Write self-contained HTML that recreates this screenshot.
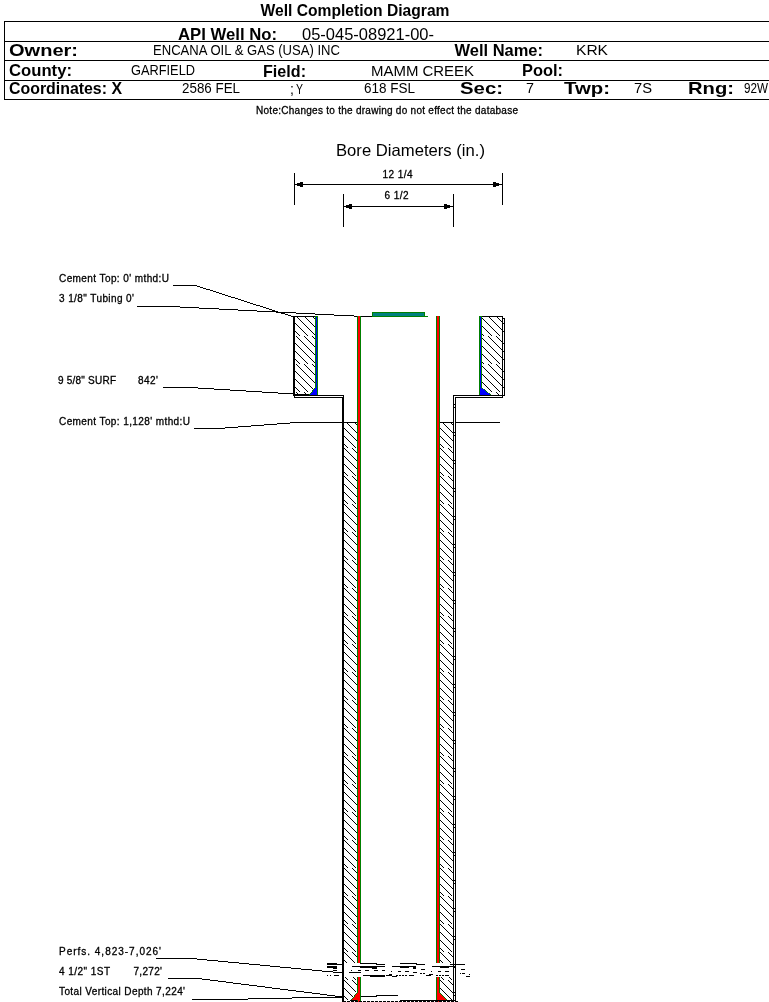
<!DOCTYPE html>
<html><head><meta charset="utf-8"><style>
html,body{margin:0;padding:0;background:#fff;}
svg{display:block;will-change:transform;}
text{font-family:"Liberation Sans",sans-serif;fill:#000;}
.sm{stroke:#000;stroke-width:0.3px;}
</style></head><body>
<svg width="769" height="1002" viewBox="0 0 769 1002" shape-rendering="crispEdges">
<defs>
<pattern id="h" patternUnits="userSpaceOnUse" width="8" height="8">
<path d="M0,0 L8,8 M-1,7 L1,9 M7,-1 L9,1" stroke="#000" stroke-width="1" shape-rendering="crispEdges"/>
</pattern>
<pattern id="g" patternUnits="userSpaceOnUse" width="8" height="8" patternTransform="translate(4,0)">
<path d="M0,0 L8,8 M-1,7 L1,9 M7,-1 L9,1" stroke="#000" stroke-width="1" shape-rendering="crispEdges"/>
</pattern></defs>
<text x="260.5" y="16" font-size="16.5" font-weight="bold" textLength="189" lengthAdjust="spacingAndGlyphs">Well Completion Diagram</text>
<rect x="4" y="21" width="765" height="1" fill="#000"/>
<rect x="4" y="41" width="765" height="1" fill="#000"/>
<rect x="4" y="60" width="765" height="1" fill="#000"/>
<rect x="4" y="80" width="765" height="1" fill="#000"/>
<rect x="4" y="99" width="765" height="1" fill="#000"/>
<rect x="4" y="21" width="1" height="79" fill="#000"/>
<text x="178" y="39.5" font-size="16.5" font-weight="bold" textLength="99" lengthAdjust="spacingAndGlyphs">API Well No:</text>
<text x="302" y="40" font-size="16.5" textLength="132" lengthAdjust="spacingAndGlyphs">05-045-08921-00-</text>
<text x="9" y="56" font-size="17" font-weight="bold" textLength="69" lengthAdjust="spacingAndGlyphs">Owner:</text>
<text x="153" y="55" font-size="14" textLength="187" lengthAdjust="spacingAndGlyphs">ENCANA OIL &amp; GAS (USA) INC</text>
<text x="454.5" y="56" font-size="16.5" font-weight="bold" textLength="88.5" lengthAdjust="spacingAndGlyphs">Well Name:</text>
<text x="576" y="55" font-size="14" textLength="32" lengthAdjust="spacingAndGlyphs">KRK</text>
<text x="9" y="75.5" font-size="17" font-weight="bold" textLength="63" lengthAdjust="spacingAndGlyphs">County:</text>
<text x="131" y="75" font-size="14" textLength="64" lengthAdjust="spacingAndGlyphs">GARFIELD</text>
<text x="263" y="77" font-size="16.5" font-weight="bold" textLength="43" lengthAdjust="spacingAndGlyphs">Field:</text>
<text x="371" y="76" font-size="14" textLength="103" lengthAdjust="spacingAndGlyphs">MAMM CREEK</text>
<text x="522" y="75.5" font-size="16.5" font-weight="bold" textLength="41" lengthAdjust="spacingAndGlyphs">Pool:</text>
<text x="9" y="94" font-size="17" font-weight="bold" textLength="113" lengthAdjust="spacingAndGlyphs">Coordinates: X</text>
<text x="182" y="93" font-size="14" textLength="58" lengthAdjust="spacingAndGlyphs">2586 FEL</text>
<text x="290" y="93.5" font-size="14">;</text>
<text x="296" y="94" font-size="14" textLength="7" lengthAdjust="spacingAndGlyphs">Y</text>
<text x="364" y="93" font-size="14" textLength="51" lengthAdjust="spacingAndGlyphs">618 FSL</text>
<text x="460" y="94" font-size="17" font-weight="bold" textLength="43" lengthAdjust="spacingAndGlyphs">Sec:</text>
<text x="526" y="93" font-size="14" textLength="8" lengthAdjust="spacingAndGlyphs">7</text>
<text x="564" y="94" font-size="17" font-weight="bold" textLength="46" lengthAdjust="spacingAndGlyphs">Twp:</text>
<text x="634" y="93" font-size="14" textLength="18" lengthAdjust="spacingAndGlyphs">7S</text>
<text x="688" y="94" font-size="17" font-weight="bold" textLength="46" lengthAdjust="spacingAndGlyphs">Rng:</text>
<text x="744" y="93" font-size="14" textLength="24" lengthAdjust="spacingAndGlyphs">92W</text>
<text x="256" y="114" font-size="10" textLength="262" lengthAdjust="spacing" class="sm">Note:Changes to the drawing do not effect the database</text>
<text x="336" y="156" font-size="16.5" textLength="149" lengthAdjust="spacingAndGlyphs">Bore Diameters (in.)</text>
<text x="382.5" y="178" font-size="10" textLength="30" lengthAdjust="spacing" class="sm">12 1/4</text>
<text x="384.5" y="199" font-size="10" textLength="24" lengthAdjust="spacing" class="sm">6 1/2</text>
<rect x="294" y="173" width="1" height="32" fill="#000"/>
<rect x="502" y="173" width="1" height="32" fill="#000"/>
<rect x="295" y="184" width="207" height="1" fill="#000"/>
<rect x="297" y="183" width="3" height="3" fill="#000"/>
<rect x="300" y="182" width="3" height="5" fill="#000"/>
<rect x="496" y="183" width="3" height="3" fill="#000"/>
<rect x="493" y="182" width="3" height="5" fill="#000"/>
<rect x="343" y="194" width="1" height="33" fill="#000"/>
<rect x="453" y="194" width="1" height="33" fill="#000"/>
<rect x="344" y="206" width="109" height="1" fill="#000"/>
<rect x="346" y="205" width="3" height="3" fill="#000"/>
<rect x="349" y="204" width="3" height="5" fill="#000"/>
<rect x="447" y="205" width="3" height="3" fill="#000"/>
<rect x="444" y="204" width="3" height="5" fill="#000"/>
<text x="59" y="282" font-size="10" textLength="110" lengthAdjust="spacing" class="sm">Cement Top: 0&#39; mthd:U</text>
<text x="59" y="302" font-size="10" textLength="75" lengthAdjust="spacing" class="sm">3 1/8&quot; Tubing 0&#39;</text>
<text x="58" y="384" font-size="10" textLength="58" lengthAdjust="spacing" class="sm">9 5/8&quot; SURF</text>
<text x="138" y="384" font-size="10" textLength="20" lengthAdjust="spacing" class="sm">842&#39;</text>
<text x="59" y="425" font-size="10" textLength="131" lengthAdjust="spacing" class="sm">Cement Top: 1,128&#39; mthd:U</text>
<text x="59" y="955" font-size="10" textLength="102" lengthAdjust="spacing" class="sm">Perfs. 4,823-7,026&#39;</text>
<text x="59" y="975" font-size="10" textLength="51" lengthAdjust="spacing" class="sm">4 1/2&quot; 1ST</text>
<text x="133.5" y="975" font-size="10" textLength="28.5" lengthAdjust="spacing" class="sm">7,272&#39;</text>
<text x="59" y="995" font-size="10" textLength="126" lengthAdjust="spacing" class="sm">Total Vertical Depth 7,224&#39;</text>
<rect x="173" y="285" width="24" height="1" fill="#000"/>
<rect x="197" y="286" width="3" height="1" fill="#000"/>
<rect x="200" y="287" width="3" height="1" fill="#000"/>
<rect x="203" y="288" width="3" height="1" fill="#000"/>
<rect x="206" y="289" width="4" height="1" fill="#000"/>
<rect x="210" y="290" width="3" height="1" fill="#000"/>
<rect x="213" y="291" width="3" height="1" fill="#000"/>
<rect x="216" y="292" width="3" height="1" fill="#000"/>
<rect x="219" y="293" width="3" height="1" fill="#000"/>
<rect x="222" y="294" width="3" height="1" fill="#000"/>
<rect x="225" y="295" width="3" height="1" fill="#000"/>
<rect x="228" y="296" width="3" height="1" fill="#000"/>
<rect x="231" y="297" width="4" height="1" fill="#000"/>
<rect x="235" y="298" width="3" height="1" fill="#000"/>
<rect x="238" y="299" width="3" height="1" fill="#000"/>
<rect x="241" y="300" width="3" height="1" fill="#000"/>
<rect x="244" y="301" width="3" height="1" fill="#000"/>
<rect x="247" y="302" width="3" height="1" fill="#000"/>
<rect x="250" y="303" width="3" height="1" fill="#000"/>
<rect x="253" y="304" width="3" height="1" fill="#000"/>
<rect x="256" y="305" width="4" height="1" fill="#000"/>
<rect x="260" y="306" width="3" height="1" fill="#000"/>
<rect x="263" y="307" width="3" height="1" fill="#000"/>
<rect x="266" y="308" width="3" height="1" fill="#000"/>
<rect x="269" y="309" width="3" height="1" fill="#000"/>
<rect x="272" y="310" width="3" height="1" fill="#000"/>
<rect x="275" y="311" width="3" height="1" fill="#000"/>
<rect x="278" y="312" width="3" height="1" fill="#000"/>
<rect x="281" y="313" width="4" height="1" fill="#000"/>
<rect x="285" y="314" width="3" height="1" fill="#000"/>
<rect x="288" y="315" width="3" height="1" fill="#000"/>
<rect x="291" y="316" width="3" height="1" fill="#000"/>
<rect x="137" y="306" width="43" height="1" fill="#000"/>
<rect x="180" y="307" width="19" height="1" fill="#000"/>
<rect x="199" y="308" width="20" height="1" fill="#000"/>
<rect x="219" y="309" width="19" height="1" fill="#000"/>
<rect x="238" y="310" width="19" height="1" fill="#000"/>
<rect x="257" y="311" width="19" height="1" fill="#000"/>
<rect x="276" y="312" width="20" height="1" fill="#000"/>
<rect x="296" y="313" width="19" height="1" fill="#000"/>
<rect x="315" y="314" width="19" height="1" fill="#000"/>
<rect x="334" y="315" width="20" height="1" fill="#000"/>
<rect x="354" y="316" width="19" height="1" fill="#000"/>
<rect x="163" y="387" width="35" height="1" fill="#000"/>
<rect x="198" y="388" width="16" height="1" fill="#000"/>
<rect x="214" y="389" width="16" height="1" fill="#000"/>
<rect x="230" y="390" width="16" height="1" fill="#000"/>
<rect x="246" y="391" width="16" height="1" fill="#000"/>
<rect x="262" y="392" width="16" height="1" fill="#000"/>
<rect x="278" y="393" width="16" height="1" fill="#000"/>
<rect x="194" y="428" width="31" height="1" fill="#000"/>
<rect x="225" y="427" width="13" height="1" fill="#000"/>
<rect x="238" y="426" width="13" height="1" fill="#000"/>
<rect x="251" y="425" width="13" height="1" fill="#000"/>
<rect x="264" y="424" width="13" height="1" fill="#000"/>
<rect x="277" y="423" width="13" height="1" fill="#000"/>
<rect x="290" y="422" width="68" height="1" fill="#000"/>
<rect x="440" y="422" width="14" height="1" fill="#000"/>
<rect x="455" y="422" width="45" height="1" fill="#000"/>
<rect x="156" y="958" width="41" height="1" fill="#000"/>
<rect x="197" y="959" width="10" height="1" fill="#000"/>
<rect x="207" y="960" width="11" height="1" fill="#000"/>
<rect x="218" y="961" width="10" height="1" fill="#000"/>
<rect x="228" y="962" width="11" height="1" fill="#000"/>
<rect x="239" y="963" width="10" height="1" fill="#000"/>
<rect x="249" y="964" width="11" height="1" fill="#000"/>
<rect x="260" y="965" width="10" height="1" fill="#000"/>
<rect x="270" y="966" width="10" height="1" fill="#000"/>
<rect x="280" y="967" width="11" height="1" fill="#000"/>
<rect x="291" y="968" width="10" height="1" fill="#000"/>
<rect x="301" y="969" width="11" height="1" fill="#000"/>
<rect x="312" y="970" width="10" height="1" fill="#000"/>
<rect x="322" y="971" width="11" height="1" fill="#000"/>
<rect x="333" y="972" width="10" height="1" fill="#000"/>
<rect x="168" y="978" width="34" height="1" fill="#000"/>
<rect x="202" y="979" width="8" height="1" fill="#000"/>
<rect x="210" y="980" width="8" height="1" fill="#000"/>
<rect x="218" y="981" width="8" height="1" fill="#000"/>
<rect x="226" y="982" width="7" height="1" fill="#000"/>
<rect x="233" y="983" width="8" height="1" fill="#000"/>
<rect x="241" y="984" width="8" height="1" fill="#000"/>
<rect x="249" y="985" width="8" height="1" fill="#000"/>
<rect x="257" y="986" width="8" height="1" fill="#000"/>
<rect x="265" y="987" width="7" height="1" fill="#000"/>
<rect x="272" y="988" width="8" height="1" fill="#000"/>
<rect x="280" y="989" width="8" height="1" fill="#000"/>
<rect x="288" y="990" width="8" height="1" fill="#000"/>
<rect x="296" y="991" width="8" height="1" fill="#000"/>
<rect x="304" y="992" width="8" height="1" fill="#000"/>
<rect x="312" y="993" width="8" height="1" fill="#000"/>
<rect x="320" y="994" width="7" height="1" fill="#000"/>
<rect x="327" y="995" width="8" height="1" fill="#000"/>
<rect x="335" y="996" width="8" height="1" fill="#000"/>
<rect x="192" y="999" width="56" height="1" fill="#000"/>
<rect x="248" y="998" width="44" height="1" fill="#000"/>
<rect x="292" y="997" width="51" height="1" fill="#000"/>
<rect x="361" y="996" width="16" height="1" fill="#000"/>
<rect x="376" y="995" width="22" height="1" fill="#000"/>
<rect x="295" y="317" width="20" height="19" fill="url(#g)"/>
<rect x="295" y="336" width="20" height="28" fill="url(#h)"/>
<rect x="295" y="364" width="20" height="28" fill="url(#g)"/>
<rect x="295" y="392" width="20" height="3" fill="url(#h)"/>
<rect x="482" y="317" width="22" height="19" fill="url(#g)"/>
<rect x="482" y="336" width="22" height="28" fill="url(#h)"/>
<rect x="482" y="364" width="22" height="28" fill="url(#g)"/>
<rect x="482" y="392" width="22" height="3" fill="url(#h)"/>
<rect x="344" y="423" width="13" height="25" fill="url(#g)"/>
<rect x="344" y="448" width="13" height="28" fill="url(#h)"/>
<rect x="344" y="476" width="13" height="28" fill="url(#g)"/>
<rect x="344" y="504" width="13" height="28" fill="url(#h)"/>
<rect x="344" y="532" width="13" height="28" fill="url(#g)"/>
<rect x="344" y="560" width="13" height="28" fill="url(#h)"/>
<rect x="344" y="588" width="13" height="28" fill="url(#g)"/>
<rect x="344" y="616" width="13" height="28" fill="url(#h)"/>
<rect x="344" y="644" width="13" height="28" fill="url(#g)"/>
<rect x="344" y="672" width="13" height="28" fill="url(#h)"/>
<rect x="344" y="700" width="13" height="28" fill="url(#g)"/>
<rect x="344" y="728" width="13" height="28" fill="url(#h)"/>
<rect x="344" y="756" width="13" height="28" fill="url(#g)"/>
<rect x="344" y="784" width="13" height="28" fill="url(#h)"/>
<rect x="344" y="812" width="13" height="28" fill="url(#g)"/>
<rect x="344" y="840" width="13" height="28" fill="url(#h)"/>
<rect x="344" y="868" width="13" height="28" fill="url(#g)"/>
<rect x="344" y="896" width="13" height="28" fill="url(#h)"/>
<rect x="344" y="924" width="13" height="28" fill="url(#g)"/>
<rect x="344" y="952" width="13" height="28" fill="url(#h)"/>
<rect x="344" y="980" width="13" height="20" fill="url(#g)"/>
<rect x="440" y="423" width="13" height="25" fill="url(#g)"/>
<rect x="440" y="448" width="13" height="28" fill="url(#h)"/>
<rect x="440" y="476" width="13" height="28" fill="url(#g)"/>
<rect x="440" y="504" width="13" height="28" fill="url(#h)"/>
<rect x="440" y="532" width="13" height="28" fill="url(#g)"/>
<rect x="440" y="560" width="13" height="28" fill="url(#h)"/>
<rect x="440" y="588" width="13" height="28" fill="url(#g)"/>
<rect x="440" y="616" width="13" height="28" fill="url(#h)"/>
<rect x="440" y="644" width="13" height="28" fill="url(#g)"/>
<rect x="440" y="672" width="13" height="28" fill="url(#h)"/>
<rect x="440" y="700" width="13" height="28" fill="url(#g)"/>
<rect x="440" y="728" width="13" height="28" fill="url(#h)"/>
<rect x="440" y="756" width="13" height="28" fill="url(#g)"/>
<rect x="440" y="784" width="13" height="28" fill="url(#h)"/>
<rect x="440" y="812" width="13" height="28" fill="url(#g)"/>
<rect x="440" y="840" width="13" height="28" fill="url(#h)"/>
<rect x="440" y="868" width="13" height="28" fill="url(#g)"/>
<rect x="440" y="896" width="13" height="28" fill="url(#h)"/>
<rect x="440" y="924" width="13" height="28" fill="url(#g)"/>
<rect x="440" y="952" width="13" height="28" fill="url(#h)"/>
<rect x="440" y="980" width="13" height="20" fill="url(#g)"/>
<rect x="454" y="404" width="1" height="1" fill="#000"/>
<rect x="454" y="407" width="1" height="1" fill="#000"/>
<rect x="454" y="432" width="1" height="1" fill="#000"/>
<rect x="454" y="435" width="1" height="1" fill="#000"/>
<rect x="454" y="460" width="1" height="1" fill="#000"/>
<rect x="454" y="463" width="1" height="1" fill="#000"/>
<rect x="454" y="488" width="1" height="1" fill="#000"/>
<rect x="454" y="491" width="1" height="1" fill="#000"/>
<rect x="454" y="516" width="1" height="1" fill="#000"/>
<rect x="454" y="519" width="1" height="1" fill="#000"/>
<rect x="454" y="544" width="1" height="1" fill="#000"/>
<rect x="454" y="547" width="1" height="1" fill="#000"/>
<rect x="454" y="572" width="1" height="1" fill="#000"/>
<rect x="454" y="575" width="1" height="1" fill="#000"/>
<rect x="454" y="600" width="1" height="1" fill="#000"/>
<rect x="454" y="603" width="1" height="1" fill="#000"/>
<rect x="454" y="628" width="1" height="1" fill="#000"/>
<rect x="454" y="631" width="1" height="1" fill="#000"/>
<rect x="454" y="656" width="1" height="1" fill="#000"/>
<rect x="454" y="659" width="1" height="1" fill="#000"/>
<rect x="454" y="684" width="1" height="1" fill="#000"/>
<rect x="454" y="687" width="1" height="1" fill="#000"/>
<rect x="454" y="712" width="1" height="1" fill="#000"/>
<rect x="454" y="715" width="1" height="1" fill="#000"/>
<rect x="454" y="740" width="1" height="1" fill="#000"/>
<rect x="454" y="743" width="1" height="1" fill="#000"/>
<rect x="454" y="768" width="1" height="1" fill="#000"/>
<rect x="454" y="771" width="1" height="1" fill="#000"/>
<rect x="454" y="796" width="1" height="1" fill="#000"/>
<rect x="454" y="799" width="1" height="1" fill="#000"/>
<rect x="454" y="824" width="1" height="1" fill="#000"/>
<rect x="454" y="827" width="1" height="1" fill="#000"/>
<rect x="454" y="852" width="1" height="1" fill="#000"/>
<rect x="454" y="855" width="1" height="1" fill="#000"/>
<rect x="454" y="880" width="1" height="1" fill="#000"/>
<rect x="454" y="883" width="1" height="1" fill="#000"/>
<rect x="454" y="908" width="1" height="1" fill="#000"/>
<rect x="454" y="911" width="1" height="1" fill="#000"/>
<rect x="454" y="936" width="1" height="1" fill="#000"/>
<rect x="454" y="939" width="1" height="1" fill="#000"/>
<rect x="454" y="964" width="1" height="1" fill="#000"/>
<rect x="454" y="967" width="1" height="1" fill="#000"/>
<rect x="454" y="992" width="1" height="1" fill="#000"/>
<rect x="454" y="995" width="1" height="1" fill="#000"/>
<rect x="293" y="316" width="1" height="80" fill="#000"/>
<rect x="294" y="316" width="1" height="82" fill="#000"/>
<rect x="293" y="316" width="22" height="1" fill="#000"/>
<rect x="293" y="395" width="51" height="1" fill="#000"/>
<rect x="294" y="397" width="49" height="1" fill="#000"/>
<rect x="343" y="395" width="1" height="607" fill="#000"/>
<rect x="342" y="397" width="1" height="605" fill="#000"/>
<rect x="315" y="316" width="1" height="79" fill="#008000"/>
<rect x="316" y="316" width="1" height="79" fill="#0000ff"/>
<rect x="317" y="316" width="1" height="79" fill="#008000"/>
<rect x="316" y="387" width="1" height="1" fill="#0000ff"/>
<rect x="315" y="387" width="1" height="1" fill="#008000"/>
<rect x="315" y="388" width="2" height="1" fill="#0000ff"/>
<rect x="314" y="388" width="1" height="1" fill="#008000"/>
<rect x="314" y="389" width="3" height="1" fill="#0000ff"/>
<rect x="313" y="389" width="1" height="1" fill="#008000"/>
<rect x="313" y="390" width="4" height="1" fill="#0000ff"/>
<rect x="312" y="390" width="1" height="1" fill="#008000"/>
<rect x="313" y="391" width="4" height="1" fill="#0000ff"/>
<rect x="312" y="391" width="1" height="1" fill="#008000"/>
<rect x="312" y="392" width="5" height="1" fill="#0000ff"/>
<rect x="311" y="392" width="1" height="1" fill="#008000"/>
<rect x="311" y="393" width="6" height="1" fill="#0000ff"/>
<rect x="310" y="393" width="1" height="1" fill="#008000"/>
<rect x="310" y="394" width="7" height="1" fill="#0000ff"/>
<rect x="309" y="394" width="1" height="1" fill="#008000"/>
<rect x="295" y="394" width="14" height="1" fill="#000"/>
<rect x="479" y="316" width="1" height="79" fill="#008000"/>
<rect x="480" y="316" width="1" height="79" fill="#0000ff"/>
<rect x="481" y="316" width="1" height="79" fill="#008000"/>
<rect x="479" y="316" width="3" height="1" fill="#008000"/>
<rect x="315" y="316" width="3" height="1" fill="#008000"/>
<rect x="503" y="318" width="1" height="1" fill="#000"/>
<rect x="482" y="316" width="21" height="1" fill="#000"/>
<rect x="502" y="316" width="1" height="82" fill="#000"/>
<rect x="504" y="318" width="1" height="78" fill="#000"/>
<rect x="453" y="395" width="52" height="1" fill="#000"/>
<rect x="455" y="397" width="48" height="1" fill="#000"/>
<rect x="453" y="395" width="1" height="607" fill="#000"/>
<rect x="455" y="397" width="1" height="605" fill="#000"/>
<rect x="480" y="387" width="1" height="1" fill="#0000ff"/>
<rect x="481" y="387" width="1" height="1" fill="#008000"/>
<rect x="482" y="387" width="1" height="1" fill="#fff"/>
<rect x="480" y="388" width="2" height="1" fill="#0000ff"/>
<rect x="482" y="388" width="1" height="1" fill="#008000"/>
<rect x="483" y="388" width="1" height="1" fill="#fff"/>
<rect x="480" y="389" width="4" height="1" fill="#0000ff"/>
<rect x="484" y="389" width="1" height="1" fill="#008000"/>
<rect x="485" y="389" width="1" height="1" fill="#fff"/>
<rect x="480" y="390" width="5" height="1" fill="#0000ff"/>
<rect x="485" y="390" width="1" height="1" fill="#008000"/>
<rect x="486" y="390" width="1" height="1" fill="#fff"/>
<rect x="480" y="391" width="6" height="1" fill="#0000ff"/>
<rect x="486" y="391" width="1" height="1" fill="#008000"/>
<rect x="487" y="391" width="1" height="1" fill="#fff"/>
<rect x="480" y="392" width="7" height="1" fill="#0000ff"/>
<rect x="487" y="392" width="1" height="1" fill="#008000"/>
<rect x="488" y="392" width="1" height="1" fill="#fff"/>
<rect x="480" y="393" width="9" height="1" fill="#0000ff"/>
<rect x="489" y="393" width="1" height="1" fill="#008000"/>
<rect x="490" y="393" width="1" height="1" fill="#fff"/>
<rect x="480" y="394" width="10" height="1" fill="#0000ff"/>
<rect x="490" y="394" width="1" height="1" fill="#008000"/>
<rect x="491" y="394" width="1" height="1" fill="#fff"/>
<rect x="357" y="316" width="1" height="647" fill="#008000"/>
<rect x="358" y="316" width="2" height="647" fill="#ff0000"/>
<rect x="360" y="316" width="1" height="647" fill="#008000"/>
<rect x="436" y="316" width="1" height="647" fill="#008000"/>
<rect x="437" y="316" width="2" height="647" fill="#ff0000"/>
<rect x="439" y="316" width="1" height="647" fill="#008000"/>
<rect x="357" y="977" width="1" height="25" fill="#008000"/>
<rect x="358" y="977" width="2" height="25" fill="#ff0000"/>
<rect x="360" y="977" width="1" height="25" fill="#008000"/>
<rect x="436" y="977" width="1" height="25" fill="#008000"/>
<rect x="437" y="977" width="2" height="25" fill="#ff0000"/>
<rect x="439" y="977" width="1" height="25" fill="#008000"/>
<rect x="372" y="312" width="53" height="5" fill="#008000"/>
<rect x="373" y="313" width="51" height="3" fill="#008080"/>
<rect x="424" y="316" width="4" height="1" fill="#008000"/>
<rect x="358" y="992" width="2" height="1" fill="#ff0000"/>
<rect x="357" y="992" width="1" height="1" fill="#008000"/>
<rect x="356" y="992" width="1" height="1" fill="#fff"/>
<rect x="357" y="993" width="3" height="1" fill="#ff0000"/>
<rect x="356" y="993" width="1" height="1" fill="#008000"/>
<rect x="355" y="993" width="1" height="1" fill="#fff"/>
<rect x="356" y="994" width="4" height="1" fill="#ff0000"/>
<rect x="355" y="994" width="1" height="1" fill="#008000"/>
<rect x="354" y="994" width="1" height="1" fill="#fff"/>
<rect x="355" y="995" width="5" height="1" fill="#ff0000"/>
<rect x="354" y="995" width="1" height="1" fill="#008000"/>
<rect x="353" y="995" width="1" height="1" fill="#fff"/>
<rect x="355" y="996" width="5" height="1" fill="#ff0000"/>
<rect x="354" y="996" width="1" height="1" fill="#008000"/>
<rect x="353" y="996" width="1" height="1" fill="#fff"/>
<rect x="354" y="997" width="6" height="1" fill="#ff0000"/>
<rect x="353" y="997" width="1" height="1" fill="#008000"/>
<rect x="352" y="997" width="1" height="1" fill="#fff"/>
<rect x="353" y="998" width="7" height="1" fill="#ff0000"/>
<rect x="352" y="998" width="1" height="1" fill="#008000"/>
<rect x="351" y="998" width="1" height="1" fill="#fff"/>
<rect x="352" y="999" width="8" height="1" fill="#ff0000"/>
<rect x="351" y="999" width="1" height="1" fill="#008000"/>
<rect x="350" y="999" width="1" height="1" fill="#fff"/>
<rect x="350" y="1000" width="7" height="1" fill="#000"/>
<rect x="437" y="992" width="2" height="1" fill="#ff0000"/>
<rect x="439" y="992" width="1" height="1" fill="#008000"/>
<rect x="440" y="992" width="1" height="1" fill="#fff"/>
<rect x="437" y="993" width="3" height="1" fill="#ff0000"/>
<rect x="440" y="993" width="1" height="1" fill="#008000"/>
<rect x="441" y="993" width="1" height="1" fill="#fff"/>
<rect x="437" y="994" width="4" height="1" fill="#ff0000"/>
<rect x="441" y="994" width="1" height="1" fill="#008000"/>
<rect x="442" y="994" width="1" height="1" fill="#fff"/>
<rect x="437" y="995" width="5" height="1" fill="#ff0000"/>
<rect x="442" y="995" width="1" height="1" fill="#008000"/>
<rect x="443" y="995" width="1" height="1" fill="#fff"/>
<rect x="437" y="996" width="6" height="1" fill="#ff0000"/>
<rect x="443" y="996" width="1" height="1" fill="#008000"/>
<rect x="444" y="996" width="1" height="1" fill="#fff"/>
<rect x="437" y="997" width="7" height="1" fill="#ff0000"/>
<rect x="444" y="997" width="1" height="1" fill="#008000"/>
<rect x="445" y="997" width="1" height="1" fill="#fff"/>
<rect x="437" y="998" width="8" height="1" fill="#ff0000"/>
<rect x="445" y="998" width="1" height="1" fill="#008000"/>
<rect x="446" y="998" width="1" height="1" fill="#fff"/>
<rect x="437" y="999" width="9" height="1" fill="#ff0000"/>
<rect x="446" y="999" width="1" height="1" fill="#008000"/>
<rect x="447" y="999" width="1" height="1" fill="#fff"/>
<rect x="343" y="1001" width="3" height="1" fill="#000"/>
<rect x="347" y="1001" width="3" height="1" fill="#000"/>
<rect x="351" y="1001" width="3" height="1" fill="#000"/>
<rect x="355" y="1001" width="3" height="1" fill="#000"/>
<rect x="359" y="1001" width="3" height="1" fill="#000"/>
<rect x="363" y="1001" width="3" height="1" fill="#000"/>
<rect x="367" y="1001" width="3" height="1" fill="#000"/>
<rect x="371" y="1001" width="3" height="1" fill="#000"/>
<rect x="375" y="1001" width="3" height="1" fill="#000"/>
<rect x="379" y="1001" width="3" height="1" fill="#000"/>
<rect x="383" y="1001" width="3" height="1" fill="#000"/>
<rect x="387" y="1001" width="3" height="1" fill="#000"/>
<rect x="391" y="1001" width="3" height="1" fill="#000"/>
<rect x="395" y="1001" width="3" height="1" fill="#000"/>
<rect x="399" y="1001" width="3" height="1" fill="#000"/>
<rect x="403" y="1001" width="3" height="1" fill="#000"/>
<rect x="407" y="1001" width="3" height="1" fill="#000"/>
<rect x="411" y="1001" width="3" height="1" fill="#000"/>
<rect x="415" y="1001" width="3" height="1" fill="#000"/>
<rect x="419" y="1001" width="3" height="1" fill="#000"/>
<rect x="423" y="1001" width="3" height="1" fill="#000"/>
<rect x="427" y="1001" width="3" height="1" fill="#000"/>
<rect x="431" y="1001" width="3" height="1" fill="#000"/>
<rect x="435" y="1001" width="3" height="1" fill="#000"/>
<rect x="439" y="1001" width="3" height="1" fill="#000"/>
<rect x="443" y="1001" width="3" height="1" fill="#000"/>
<rect x="447" y="1001" width="3" height="1" fill="#000"/>
<rect x="451" y="1001" width="3" height="1" fill="#000"/>
<rect x="455" y="1001" width="3" height="1" fill="#000"/>
<rect x="400" y="1000" width="56" height="1" fill="#000"/>
<rect x="344" y="963" width="13" height="14" fill="#fff"/>
<rect x="440" y="963" width="13" height="14" fill="#fff"/>
<rect x="327" y="963" width="10" height="1" fill="#000"/>
<rect x="327" y="964" width="16" height="1" fill="#000"/>
<rect x="360" y="963" width="17" height="1" fill="#000"/>
<rect x="376" y="964" width="9" height="1" fill="#000"/>
<rect x="327" y="966" width="10" height="1" fill="#000"/>
<rect x="327" y="967" width="10" height="1" fill="#000"/>
<rect x="333" y="968" width="4" height="1" fill="#000"/>
<rect x="352" y="966" width="33" height="1" fill="#000"/>
<rect x="360" y="967" width="17" height="1" fill="#000"/>
<rect x="372" y="968" width="5" height="1" fill="#000"/>
<rect x="333" y="970" width="4" height="1" fill="#000"/>
<rect x="351" y="970" width="1" height="1" fill="#000"/>
<rect x="358" y="970" width="3" height="1" fill="#000"/>
<rect x="365" y="970" width="4" height="1" fill="#000"/>
<rect x="374" y="970" width="4" height="1" fill="#000"/>
<rect x="382" y="970" width="3" height="1" fill="#000"/>
<rect x="333" y="972" width="10" height="1" fill="#000"/>
<rect x="349" y="972" width="12" height="1" fill="#000"/>
<rect x="327" y="975" width="1" height="1" fill="#000"/>
<rect x="330" y="975" width="1" height="1" fill="#000"/>
<rect x="334" y="975" width="5" height="1" fill="#000"/>
<rect x="363" y="975" width="7" height="1" fill="#000"/>
<rect x="370" y="975" width="15" height="1" fill="#000"/>
<rect x="370" y="976" width="15" height="1" fill="#000"/>
<rect x="400" y="963" width="17" height="1" fill="#000"/>
<rect x="416" y="964" width="9" height="1" fill="#000"/>
<rect x="392" y="966" width="17" height="1" fill="#000"/>
<rect x="400" y="967" width="9" height="1" fill="#000"/>
<rect x="408" y="966" width="8" height="1" fill="#000"/>
<rect x="413" y="967" width="3" height="1" fill="#000"/>
<rect x="413" y="968" width="3" height="1" fill="#000"/>
<rect x="432" y="966" width="19" height="1" fill="#000"/>
<rect x="440" y="967" width="9" height="1" fill="#000"/>
<rect x="421" y="969" width="4" height="1" fill="#000"/>
<rect x="391" y="971" width="1" height="1" fill="#000"/>
<rect x="398" y="971" width="3" height="1" fill="#000"/>
<rect x="405" y="971" width="4" height="1" fill="#000"/>
<rect x="431" y="971" width="1" height="1" fill="#000"/>
<rect x="438" y="971" width="3" height="1" fill="#000"/>
<rect x="445" y="971" width="4" height="1" fill="#000"/>
<rect x="413" y="972" width="4" height="1" fill="#000"/>
<rect x="420" y="973" width="2" height="1" fill="#000"/>
<rect x="423" y="973" width="2" height="1" fill="#000"/>
<rect x="389" y="974" width="3" height="1" fill="#000"/>
<rect x="429" y="974" width="4" height="1" fill="#000"/>
<rect x="386" y="975" width="6" height="1" fill="#000"/>
<rect x="396" y="975" width="2" height="1" fill="#000"/>
<rect x="399" y="975" width="2" height="1" fill="#000"/>
<rect x="402" y="975" width="2" height="1" fill="#000"/>
<rect x="405" y="975" width="2" height="1" fill="#000"/>
<rect x="409" y="975" width="4" height="1" fill="#000"/>
<rect x="413" y="975" width="1" height="1" fill="#000"/>
<rect x="426" y="975" width="5" height="1" fill="#000"/>
<rect x="436" y="975" width="2" height="1" fill="#000"/>
<rect x="439" y="975" width="2" height="1" fill="#000"/>
<rect x="442" y="975" width="2" height="1" fill="#000"/>
<rect x="445" y="975" width="4" height="1" fill="#000"/>
<rect x="392" y="976" width="5" height="1" fill="#000"/>
<rect x="450" y="964" width="15" height="1" fill="#000"/>
<rect x="450" y="966" width="5" height="1" fill="#000"/>
<rect x="461" y="969" width="4" height="1" fill="#000"/>
<rect x="460" y="973" width="1" height="1" fill="#000"/>
<rect x="462" y="973" width="3" height="1" fill="#000"/>
<rect x="466" y="976" width="4" height="1" fill="#000"/>
<rect x="469" y="974" width="1" height="1" fill="#000"/>
</svg>
</body></html>
